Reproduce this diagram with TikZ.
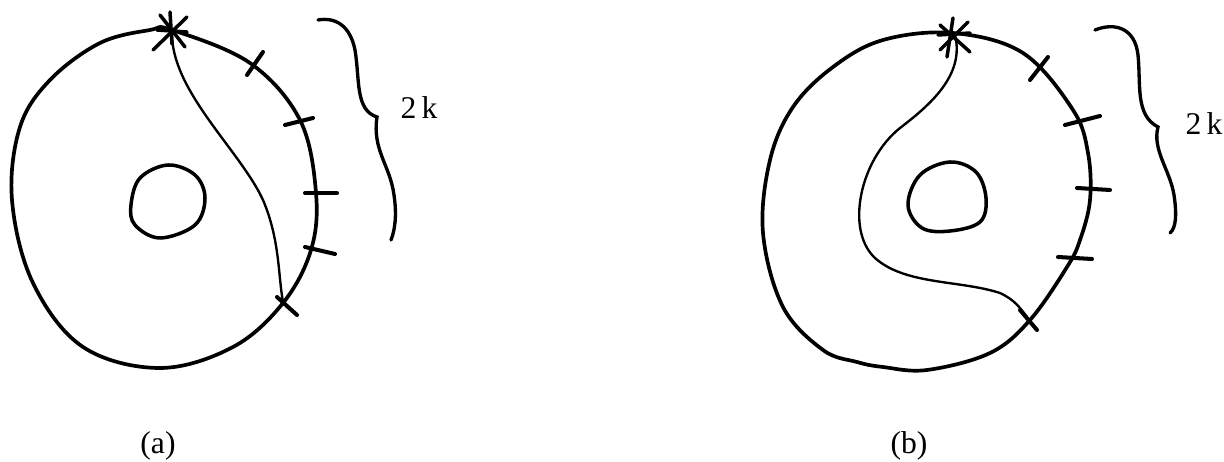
\documentclass[tikz,border=0pt]{standalone}
\usepackage{fontspec}
\setmainfont{Liberation Serif}
\begin{document}
\begin{tikzpicture}[x=0.02cm,y=-0.02cm,
  outer/.style={line width=2.1pt,line cap=round,line join=round},
  innerloop/.style={line width=2pt,line cap=round,line join=round},
  arcline/.style={line width=1.35pt,line cap=round},
  tick/.style={line width=2.3pt,line cap=round},
  starline/.style={line width=2pt,line cap=round},
  brace/.style={line width=1.9pt,line cap=round},
  lbl/.style={font=\fontsize{18}{21}\selectfont,inner sep=0pt}]
\useasboundingbox (0,0) rectangle (1224,462);
% ---------- panel (a) ----------
\draw[outer] plot[smooth cycle,tension=0.6] coordinates {
 (172,30) (250,63) (300,120) (316,193) (311,250) (283,303) (233,347)
 (160,368) (83,347) (33,283) (12,200) (20,127) (50,80) (100,43) (150,30)};
\draw[innerloop] plot[smooth cycle,tension=0.6] coordinates {
 (168,165) (195,175) (205,198) (195,225) (160,238) (135,225) (131,205) (140,178)};
\coordinate (sa) at (172,31);
\coordinate (ea) at (283,302);
\draw[arcline] (sa) .. controls (170,90) and (240,150) .. (263,200)
  .. controls (280,240) and (278,275) .. (ea);
\draw[starline] (160,15) -- (185,47);
\draw[starline] (153,50) -- (187,17);
\draw[starline] (170,12) -- (172,44);
\draw[starline] (157,30) -- (187,32);
\draw[tick] (247,75) -- (263,52);
\draw[tick] (285,125) -- (313,118);
\draw[tick] (305,193) -- (337,193);
\draw[tick] (305,247) -- (335,254);
\draw[tick] (277,297) -- (297,315);
\draw[brace] (318,20) .. controls (335,17) and (350,25) .. (355,50)
  .. controls (360,80) and (355,110) .. (377,117)
  .. controls (372,150) and (390,165) .. (394,195)
  .. controls (397,215) and (395,230) .. (391,240);
\node[lbl] (ka) at (419,108) {2\,k};
\node[lbl] (la) at (158,446) {(a)};
% ---------- panel (b) ----------
\draw[outer] plot[smooth cycle,tension=0.6] coordinates {
 (953,33) (1023,53) (1073,110) (1088,153) (1090,200) (1080,240) (1067,267)
 (1030,320) (990,353) (927,370) (883,367) (857,362) (823,350) (783,307)
 (763,233) (770,160) (793,107) (833,67) (883,40)};
\draw[innerloop] plot[smooth cycle,tension=0.6] coordinates {
 (950,162) (976,172) (986,198) (980,222) (950,231) (922,228) (908,205) (920,175)};
\coordinate (sb) at (955,35);
\coordinate (eb) at (1027,317);
\draw[arcline] (sb) .. controls (965,75) and (930,105) .. (900,128)
  .. controls (860,160) and (845,230) .. (875,258)
  .. controls (905,285) and (960,280) .. (1000,293)
  .. controls (1015,300) and (1020,308) .. (eb);
\draw[starline] (940,25) -- (970,52);
\draw[starline] (940,50) -- (968,22);
\draw[starline] (953,18) -- (947,57);
\draw[starline] (938,35) -- (970,33);
\draw[tick] (1030,80) -- (1048,57);
\draw[tick] (1065,125) -- (1100,116);
\draw[tick] (1077,188) -- (1110,190);
\draw[tick] (1058,257) -- (1092,259);
\draw[tick] (1020,310) -- (1037,330);
\draw[brace] (1095,30) .. controls (1115,22) and (1135,28) .. (1138,55)
  .. controls (1141,85) and (1135,115) .. (1158,127)
  .. controls (1152,150) and (1170,170) .. (1174,195)
  .. controls (1177,215) and (1176,228) .. (1170,233);
\node[lbl] (kb) at (1204,124) {2\,k};
\node[lbl] (lb) at (909,446) {(b)};
\end{tikzpicture}
\end{document}
